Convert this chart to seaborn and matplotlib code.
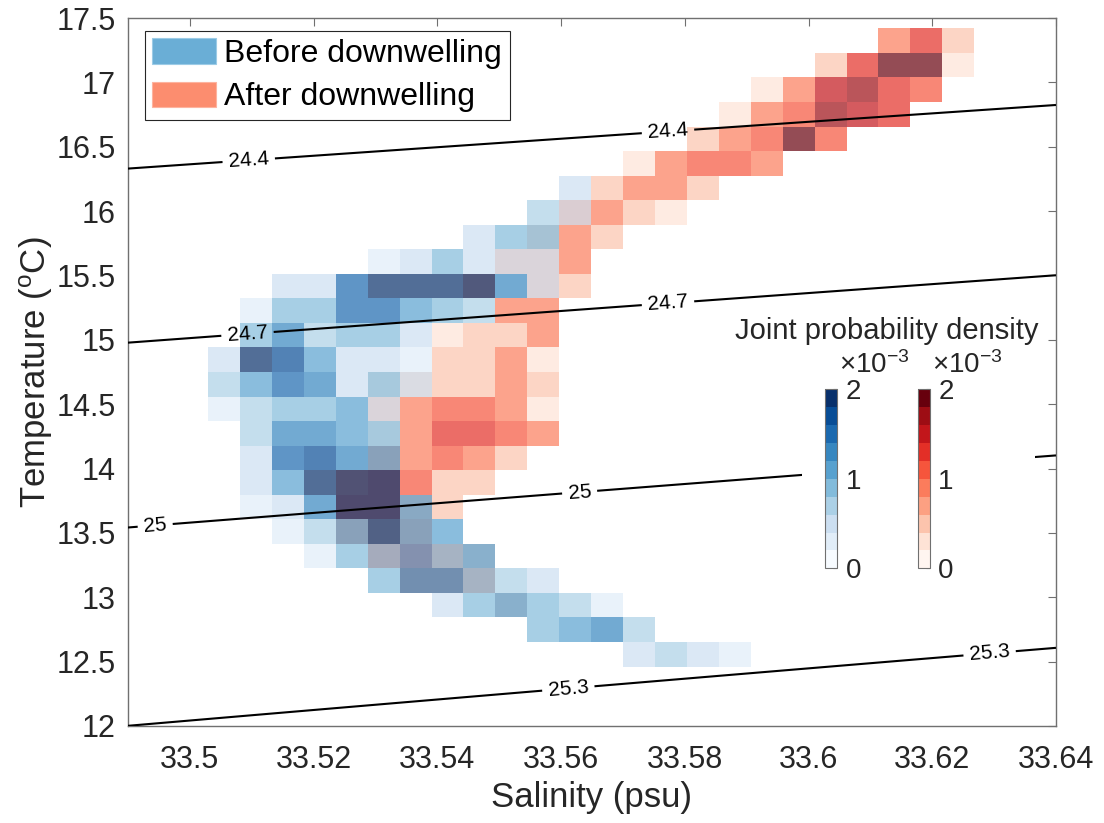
import numpy as np
import pandas as pd
import matplotlib
matplotlib.use("Agg")
import matplotlib.pyplot as plt
import matplotlib.colors as mcolors
import matplotlib.cm as mcm
from matplotlib.patches import Patch
import seaborn as sns

# ---------------------------------------------------------------------------
# Histogram grid (bin edges) of the T-S joint distribution
sal_edges = np.linspace(33.50295, 33.62679, 25)    # 24 salinity bins (psu)
temp_edges = np.linspace(12.4614, 17.4199, 27)     # 26 temperature bins (degC)

# Joint probability density per cell, coded as colour class k
# (k spans k*0.2e-3 .. (k+1)*0.2e-3); warmest row first, '.' = no samples
before_rows = [
    "........................",
    "........................",
    "........................",
    "........................",
    "........................",
    "........................",
    "...........2............",
    "..........32............",
    "........244.............",
    ".....124222.............",
    "..227999962.............",
    ".14477543...............",
    ".463442.................",
    "2985221.................",
    "3576242.................",
    "134452..................",
    ".36654..................",
    ".27865..................",
    ".25999..................",
    ".126995.................",
    "..135955................",
    "...144545...............",
    ".....466432.............",
    ".......245431...........",
    "..........4563..........",
    ".............2321.......",
]

after_rows = [
    ".....................462",
    "...................26991",
    ".................147865.",
    "................145876..",
    "...............24595....",
    ".............14554......",
    "............2442........",
    "...........4421.........",
    "..........242...........",
    ".........334............",
    "........3.32............",
    ".........44.............",
    ".......1224.............",
    ".......2241.............",
    ".....122242.............",
    ".....345541.............",
    ".....146654.............",
    ".....44542..............",
    "....45522...............",
    "....5532................",
    "....424.................",
    ".....5642...............",
    "......444...............",
    ".........2..............",
    "........................",
    "........................",
]

class_width = 0.2e-3
density_max = 2e-3
isopycnals = [24.4, 24.7, 25.0, 25.3]
series_labels = ["Before downwelling", "After downwelling"]


def cells_to_frame(rows):
    """Turn the coded rows into one record per occupied histogram cell."""
    s_mid = 0.5 * (sal_edges[:-1] + sal_edges[1:])
    t_mid = 0.5 * (temp_edges[:-1] + temp_edges[1:])[::-1]
    recs = []
    for j, row in enumerate(rows):
        for i, ch in enumerate(row):
            if ch != ".":
                recs.append((s_mid[i], t_mid[j], (int(ch) + 0.5) * class_width))
    return pd.DataFrame(recs, columns=["salinity", "temperature", "density"])


def sigma0(sa, ct):
    """Surface potential density anomaly (kg m^-3).

    Absolute salinity is put on the practical scale and conservative
    temperature is turned into potential temperature with a heat-capacity
    ratio, then the UNESCO-1980 surface polynomial is evaluated."""
    sp = sa * 35.0 / 35.16504
    cp0 = 3991.86795711963
    t = ct * cp0 / (cp0 + 5.6 * (35.16504 - sa))
    rho_w = (999.842594 + 6.793952e-2 * t - 9.095290e-3 * t**2
             + 1.001685e-4 * t**3 - 1.120083e-6 * t**4 + 6.536332e-9 * t**5)
    a = (8.24493e-1 - 4.0899e-3 * t + 7.6438e-5 * t**2
         - 8.2467e-7 * t**3 + 5.3875e-9 * t**4)
    b = -5.72466e-3 + 1.0227e-4 * t - 1.6546e-6 * t**2
    c = 4.8314e-4
    return rho_w + a * sp + b * sp**1.5 + c * sp**2 - 1000.0


before = cells_to_frame(before_rows)
after = cells_to_frame(after_rows)

# ---------------------------------------------------------------------------
sns.set_theme(style="white")
plt.rcParams["font.family"] = ["Liberation Sans", "DejaVu Sans"]
plt.rcParams["mathtext.fontset"] = "custom"
plt.rcParams["mathtext.rm"] = "Liberation Sans"
plt.rcParams["mathtext.it"] = "Liberation Sans:italic"

text_col = "#262626"
axis_col = "#707070"

blues10 = mcolors.ListedColormap(plt.get_cmap("Blues")(np.linspace(0, 1, 10)))
reds10 = mcolors.ListedColormap(plt.get_cmap("Reds")(np.linspace(0, 1, 10)))
norm = mcolors.Normalize(0, density_max)

fig = plt.figure(figsize=(11.04, 8.23), dpi=100)
ax = fig.add_axes([0.1159, 0.1179, 0.8406, 0.8602])

hist_kw = dict(x="salinity", y="temperature", weights="density",
               bins=[sal_edges, temp_edges], vmin=0, vmax=density_max,
               alpha=0.7, linewidth=0, antialiased=False, ax=ax)
sns.histplot(data=after, cmap=reds10, **hist_kw)
sns.histplot(data=before, cmap=blues10, **hist_kw)

# Isopycnals
sg = np.linspace(33.49, 33.64, 300)
tg = np.linspace(12.0, 17.5, 300)
SS, TT = np.meshgrid(sg, tg)
cs = ax.contour(SS, TT, sigma0(SS, TT), levels=isopycnals, colors="black",
                linewidths=1.5, zorder=4)
label_spots = [(33.5095, 16.41), (33.5773, 16.64),
               (33.5093, 15.06), (33.5773, 15.30),
               (33.4944, 13.56), (33.5630, 13.82),
               (33.5612, 12.28), (33.6293, 12.55)]
ax.clabel(cs, fmt="%g", fontsize=15, inline=True, inline_spacing=6,
          manual=label_spots)

ax.set_xlim(33.49, 33.64)
ax.set_ylim(12, 17.5)
ax.set_xticks(np.arange(33.50, 33.641, 0.02))
ax.set_yticks(np.arange(12, 17.51, 0.5))
ax.xaxis.set_major_formatter(matplotlib.ticker.FormatStrFormatter("%g"))
ax.yaxis.set_major_formatter(matplotlib.ticker.FormatStrFormatter("%g"))
ax.tick_params(direction="in", top=True, right=True, length=6, width=0.8,
               color=axis_col, labelcolor=text_col, labelsize=22)
ax.tick_params(axis="x", pad=14)
ax.tick_params(axis="y", pad=9)
for sp in ax.spines.values():
    sp.set_color(axis_col)
    sp.set_linewidth(1.0)
ax.set_xlabel("Salinity (psu)", fontsize=25, color=text_col, labelpad=4)
ax.set_ylabel(r"Temperature ($^{\mathrm{o}}$C)", fontsize=25, color=text_col,
              labelpad=1)

handles = [Patch(facecolor="#6aaed6", edgecolor="#9ccbe6", linewidth=0.8),
           Patch(facecolor="#fc8d6f", edgecolor="#fdb39f", linewidth=0.8)]
leg = ax.legend(handles, series_labels, loc="upper left",
                bbox_to_anchor=(0.0183, 0.982), borderaxespad=0, fontsize=23,
                handlelength=2.0, handleheight=0.85, handletextpad=0.26,
                borderpad=0.23, labelspacing=0.4, fancybox=False,
                framealpha=1, edgecolor=text_col)
leg.get_frame().set_linewidth(0.8)
for t in leg.get_texts():
    t.set_color("black")

# White panel holding the two colour scales
panel = fig.add_axes([802 / 1104, 1 - 590 / 823, 233 / 1104, 245 / 823])
panel.set_facecolor("white")
panel.set_xticks([])
panel.set_yticks([])
for sp in panel.spines.values():
    sp.set_visible(False)

fig.text(887 / 1104, 1 - 331 / 823, "Joint probability density",
         ha="center", va="center", fontsize=21, color=text_col)

for left, cmap in [(825, blues10), (917.7, reds10)]:
    cax = fig.add_axes([left / 1104, 1 - 568.3 / 823, 12.3 / 1104, 179 / 823])
    sm = mcm.ScalarMappable(norm=norm, cmap=cmap)
    cb = fig.colorbar(sm, cax=cax, ticks=[0, 1e-3, 2e-3])
    cb.set_ticklabels(["0", "1", "2"])
    cb.outline.set_edgecolor(axis_col)
    cb.outline.set_linewidth(0.8)
    cax.tick_params(direction="in", length=3, width=0.8, color=axis_col,
                    labelsize=20, labelcolor=text_col, pad=6)
    fig.text((left + 14) / 1104, 1 - 373 / 823, r"$\times$10$^{-3}$",
             ha="left", va="baseline", fontsize=20, color=text_col)

fig.savefig("out.png", dpi=100, facecolor="white")
